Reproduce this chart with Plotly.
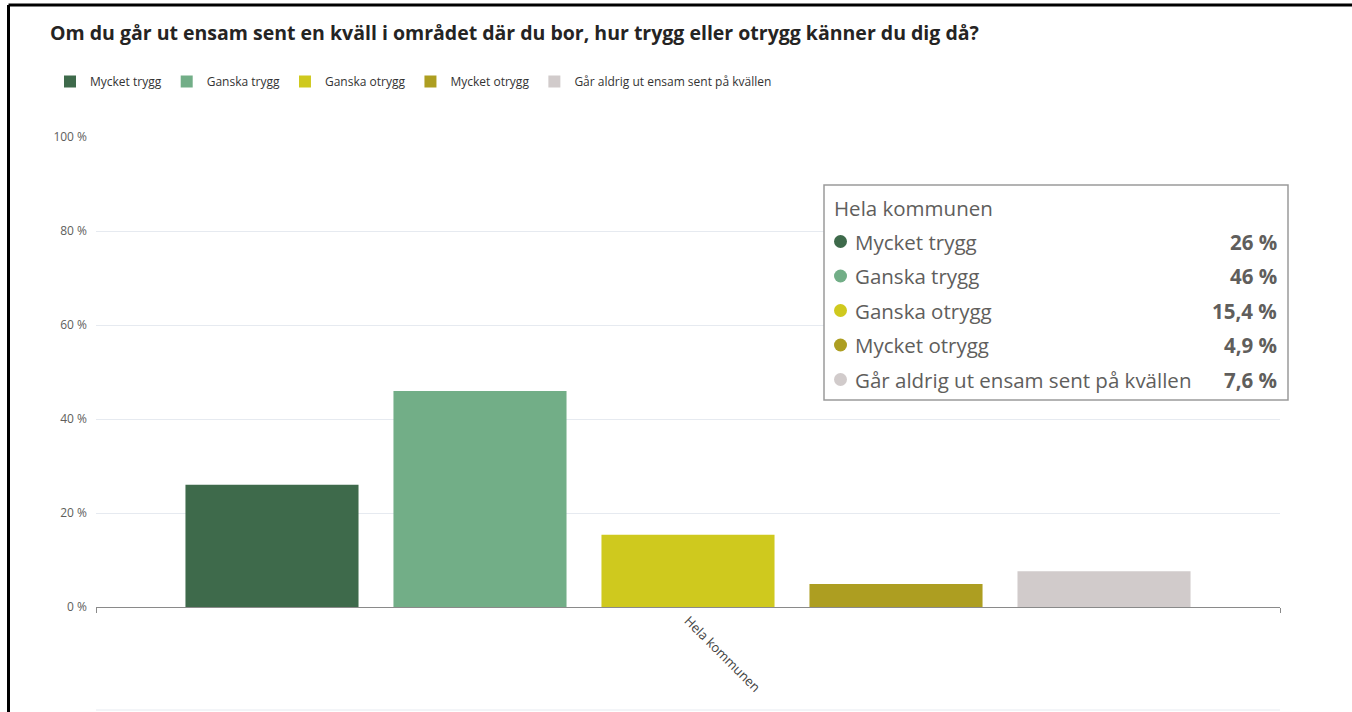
import plotly.graph_objects as go

# ---- data ----
categories = ["Hela kommunen"]
series_names = ["Mycket trygg", "Ganska trygg", "Ganska otrygg", "Mycket otrygg",
                "Går aldrig ut ensam sent på kvällen"]
series_values = [26.0, 46.0, 15.4, 4.9, 7.6]
series_colors = ["#3e6a4b", "#72ae87", "#cfc91e", "#ad9e21", "#d1cbcb"]
y_ticks = [0, 20, 40, 60, 80, 100]
y_tick_labels = [f"{v} %" for v in y_ticks]
title_text = "Om du går ut ensam sent en kväll i området där du bor, hur trygg eller otrygg känner du dig då?"
tooltip_title = "Hela kommunen"

W, H = 1352, 712
ML, MR, MT, MB = 96, 72, 137, 105
PW, PH = W - ML - MR, H - MT - MB


def px(x):
    return (x - ML) / PW


def py(y):
    return (H - MB - y) / PH


FONT = "Open Sans"

fig = go.Figure()
for name, val, col in zip(series_names, series_values, series_colors):
    fig.add_trace(go.Bar(
        x=categories, y=[val], name=name,
        marker=dict(color=col, line=dict(width=0)),
        hoverinfo="skip",
    ))

shapes = []
annotations = []

# black page border (left and top)
shapes.append(dict(type="line", xref="paper", yref="paper",
                   x0=px(8.5), x1=px(W + 5), y0=py(5), y1=py(5),
                   line=dict(color="#000000", width=3)))
shapes.append(dict(type="line", xref="paper", yref="paper",
                   x0=px(8.5), x1=px(8.5), y0=py(5), y1=py(H + 5),
                   line=dict(color="#000000", width=3)))
# faint line near bottom
shapes.append(dict(type="line", xref="paper", yref="paper",
                   x0=0, x1=1, y0=py(710), y1=py(710),
                   line=dict(color="#e6eaf0", width=1)))

# tooltip box
bx0, bx1, by0, by1 = 824, 1288, 185, 400
shapes.append(dict(type="rect", xref="paper", yref="paper",
                   x0=px(bx0), x1=px(bx1), y0=py(by0), y1=py(by1),
                   line=dict(color="#9a9a9a", width=1.5), fillcolor="#ffffff",
                   layer="above"))
annotations.append(dict(xref="paper", yref="paper", x=px(832), y=py(208),
                        xanchor="left", yanchor="middle", showarrow=False,
                        text=tooltip_title,
                        font=dict(family=FONT, size=20.5, color="#605e5c")))
row_y0, row_dy = 241.5, 34.5
for i, (name, val, col) in enumerate(zip(series_names, series_values, series_colors)):
    yy = row_y0 + i * row_dy
    shapes.append(dict(type="circle", xref="paper", yref="paper",
                       x0=px(834), x1=px(847), y0=py(yy - 6.5), y1=py(yy + 6.5),
                       line=dict(width=0), fillcolor=col, layer="above"))
    annotations.append(dict(xref="paper", yref="paper", x=px(853), y=py(yy),
                            xanchor="left", yanchor="middle", showarrow=False,
                            text=name,
                            font=dict(family=FONT, size=20.5, color="#605e5c")))
    label = f"{val:g}".replace(".", ",") + " %"
    annotations.append(dict(xref="paper", yref="paper", x=px(1279), y=py(yy),
                            xanchor="right", yanchor="middle", showarrow=False,
                            text=f"<b>{label}</b>",
                            font=dict(family=FONT, size=20.5, color="#605e5c")))

fig.update_layout(
    width=W, height=H,
    margin=dict(l=ML, r=MR, t=MT, b=MB),
    paper_bgcolor="#ffffff", plot_bgcolor="#ffffff",
    barmode="group", bargap=0.1216, bargroupgap=0.168,
    font=dict(family=FONT, color="#605e5c"),
    title=dict(text=f"<b>{title_text}</b>", xref="container", yref="container",
               x=50 / W, y=1 - 33 / H, xanchor="left", yanchor="middle",
               font=dict(family=FONT, size=19.5, color="#252423")),
    legend=dict(orientation="h", xref="container", yref="container",
                x=50 / W, y=1 - 67 / H, xanchor="left", yanchor="top",
                font=dict(family=FONT, size=12, color="#333333"),
                itemsizing="constant", itemwidth=30,
                traceorder="normal"),
    xaxis=dict(type="category", showgrid=False, showline=True,
               linecolor="#8a8a8a", linewidth=1,
               ticks="outside", tickson="boundaries", ticklen=5,
               tickcolor="#8a8a8a", tickangle=45,
               tickfont=dict(family=FONT, size=13, color="#444444")),
    yaxis=dict(range=[0, 100.05], tickvals=y_ticks, ticktext=y_tick_labels,
               showgrid=True, gridcolor="#e6eaf0", gridwidth=1,
               zeroline=False, showline=False, ticks="",
               ticklabelstandoff=8,
               tickfont=dict(family=FONT, size=12, color="#605e5c")),
    shapes=shapes,
    annotations=annotations,
)

fig.write_html("out.html", config={"displayModeBar": False},
               post_script="document.body.style.margin='0';document.body.style.overflow='hidden';")
